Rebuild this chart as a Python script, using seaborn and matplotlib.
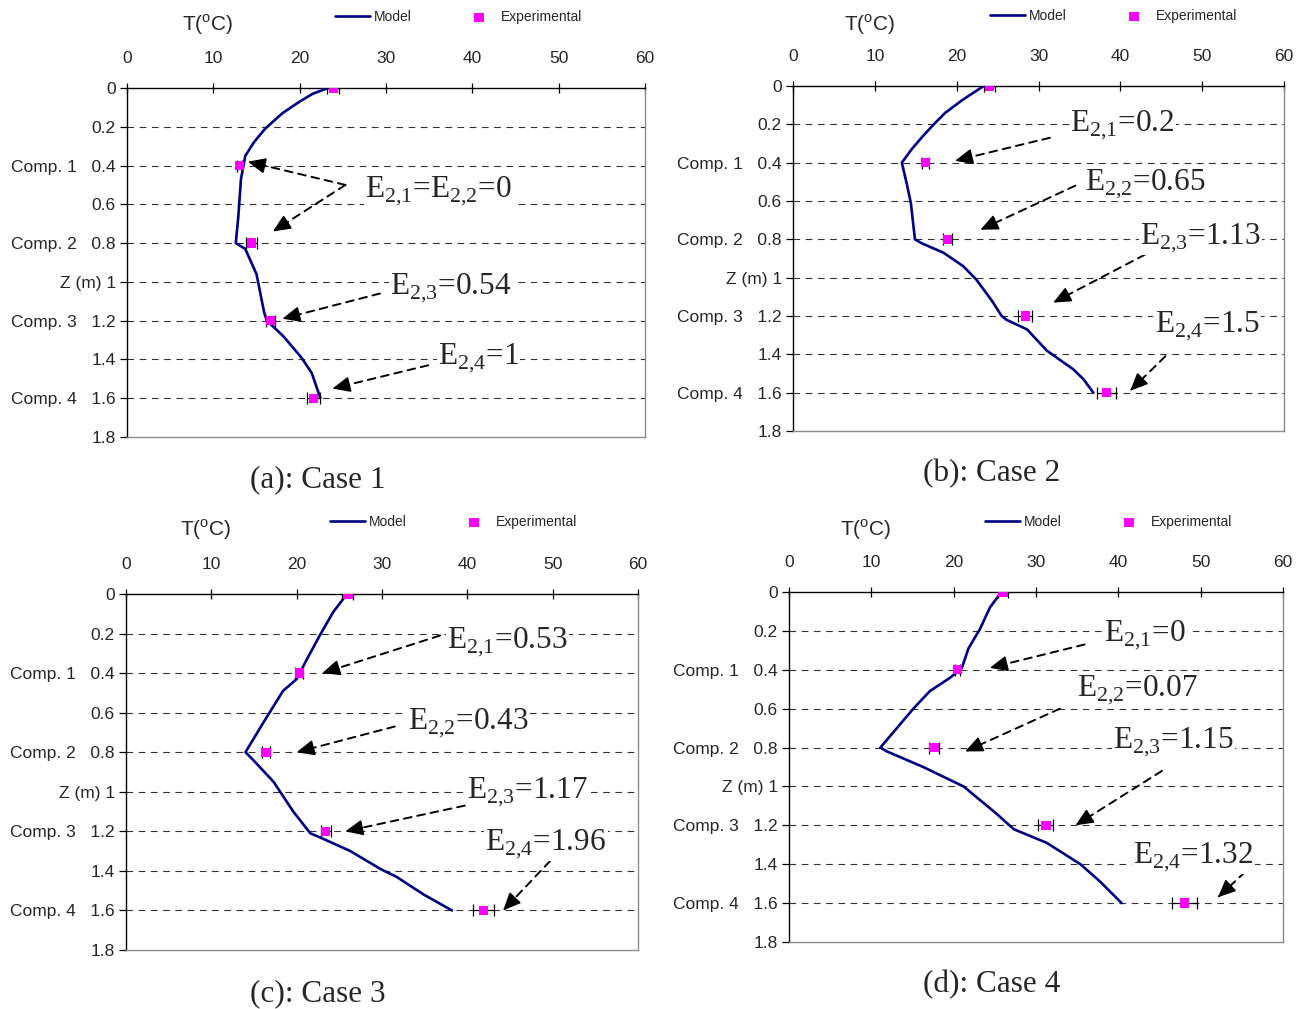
import numpy as np
import pandas as pd
import matplotlib
matplotlib.use("Agg")
import matplotlib.pyplot as plt
import seaborn as sns

# ---------------- data ----------------
exp_z = [0.0, 0.4, 0.8, 1.2, 1.6]
y_ticks = [0.0, 0.2, 0.4, 0.6, 0.8, 1.0, 1.2, 1.4, 1.6, 1.8]
y_tick_labels = ["0", "0.2", "Comp. 1   0.4", "0.6", "Comp. 2   0.8", "Z (m) 1",
                 "Comp. 3   1.2", "1.4", "Comp. 4   1.6", "1.8"]
x_ticks = [0, 10, 20, 30, 40, 50, 60]

a_model_T = [23.3, 21.5, 20.0, 18.0, 16.0, 14.7, 13.7, 13.2, 12.9, 12.6, 13.7, 15.0, 15.9, 16.2, 18.1, 20.2, 21.4, 22.4]
a_model_z = [0.0, 0.03, 0.07, 0.13, 0.21, 0.28, 0.35, 0.47, 0.66, 0.80, 0.83, 0.96, 1.16, 1.20, 1.28, 1.39, 1.47, 1.60]
a_exp_T = [23.9, 13.0, 14.4, 16.6, 21.6]
a_exp_err = [0.7, 0.3, 0.6, 0.55, 0.7]

b_model_T = [23.3, 20.8, 18.6, 17.2, 15.9, 14.5, 13.3, 13.9, 14.4, 14.9, 15.7, 18.4, 20.8, 22.4,
             24.3, 25.5, 26.1, 28.6, 31.0, 34.3, 35.5, 36.7]
b_model_z = [0.0, 0.07, 0.14, 0.20, 0.26, 0.33, 0.40, 0.51, 0.61, 0.80, 0.82, 0.87, 0.94, 1.01,
             1.12, 1.20, 1.22, 1.27, 1.38, 1.48, 1.53, 1.60]
b_exp_T = [24.0, 16.2, 18.9, 28.4, 38.3]
b_exp_err = [0.7, 0.45, 0.57, 0.86, 1.2]

c_model_T = [25.9, 24.3, 22.7, 21.2, 20.0, 18.4, 16.1, 14.0, 14.7, 17.3, 19.6, 21.6, 22.7, 26.3,
             29.8, 31.7, 34.9, 38.2]
c_model_z = [0.0, 0.09, 0.21, 0.33, 0.43, 0.49, 0.65, 0.80, 0.83, 0.95, 1.10, 1.21, 1.23, 1.30,
             1.39, 1.43, 1.52, 1.60]
c_exp_T = [26.0, 20.3, 16.4, 23.4, 41.9]
c_exp_err = [0.63, 0.5, 0.47, 0.59, 1.27]

d_model_T = [25.8, 24.4, 23.2, 21.8, 21.0, 19.6, 17.1, 15.1, 13.5, 11.1, 11.9, 16.3, 21.2, 25.2,
             27.3, 31.3, 35.4, 37.8, 40.4]
d_model_z = [0.0, 0.08, 0.19, 0.29, 0.39, 0.44, 0.51, 0.60, 0.68, 0.80, 0.82, 0.90, 1.00, 1.14,
             1.22, 1.29, 1.40, 1.49, 1.60]
d_exp_T = [26.0, 20.5, 17.6, 31.2, 48.0]
d_exp_err = [0.6, 0.3, 0.57, 0.91, 1.52]

captions = ["(a): Case 1", "(b): Case 2", "(c): Case 3", "(d): Case 4"]

S21 = "E$_{\\mathrm{2{,}1}}$"
S22 = "E$_{\\mathrm{2{,}2}}$"
S23 = "E$_{\\mathrm{2{,}3}}$"
S24 = "E$_{\\mathrm{2{,}4}}$"

# annotation texts: (label, text x, text z, [(arrow start x, start z, end x, end z), ...])
a_notes = [(S21 + "=" + S22 + "=0", 27.6, 0.53, [(25.3, 0.50, 14.0, 0.38), (25.3, 0.50, 16.9, 0.74)]),
           (S23 + "=0.54", 30.5, 1.03, [(29.3, 1.06, 18.0, 1.19)]),
           (S24 + "=1", 36.0, 1.39, [(34.9, 1.43, 23.8, 1.55)])]
b_notes = [(S21 + "=0.2", 33.9, 0.20, [(31.4, 0.27, 19.8, 0.39)]),
           (S22 + "=0.65", 35.7, 0.51, [(34.5, 0.52, 22.9, 0.75)]),
           (S23 + "=1.13", 42.4, 0.79, [(43.0, 0.88, 31.8, 1.13)]),
           (S24 + "=1.5", 44.2, 1.25, [(45.5, 1.41, 41.2, 1.59)])]
c_notes = [(S21 + "=0.53", 37.6, 0.24, [(36.8, 0.21, 23.0, 0.40)]),
           (S22 + "=0.43", 33.1, 0.65, [(31.5, 0.67, 20.0, 0.80)]),
           (S23 + "=1.17", 40.0, 1.00, [(39.7, 1.07, 25.7, 1.20)]),
           (S24 + "=1.96", 42.1, 1.26, [(49.7, 1.35, 44.2, 1.60)])]
d_notes = [(S21 + "=0", 38.3, 0.22, [(35.9, 0.27, 24.4, 0.39)]),
           (S22 + "=0.07", 35.0, 0.50, [(32.9, 0.60, 21.4, 0.82)]),
           (S23 + "=1.15", 39.4, 0.77, [(45.3, 0.92, 34.8, 1.20)]),
           (S24 + "=1.32", 41.8, 1.36, [(55.4, 1.44, 52.1, 1.57)])]

# ---------------- style ----------------
sns.set_theme(style="white")
plt.rcParams["font.family"] = ["Liberation Sans", "DejaVu Sans"]
plt.rcParams["mathtext.fontset"] = "custom"
plt.rcParams["mathtext.rm"] = "Liberation Serif"
plt.rcParams["mathtext.sf"] = "Liberation Sans"

W, H = 1304, 1009
fig = plt.figure(figsize=(W / 100, H / 100), dpi=100)
fig.patch.set_facecolor("white")

# pixel boxes: left, right, top, bottom
boxes = [(127, 645, 88, 437), (793, 1284, 86, 431), (126, 638, 594, 950), (789, 1283, 592, 942)]
t_label_pos = [(208, 25), (870, 25), (206, 530), (866, 530)]
legend_pos = [(335, 17), (990, 16), (330, 522), (985, 522)]
caption_pos = [(318, 480), (992, 474), (318, 994), (992, 985)]

panels = [
    (a_model_T, a_model_z, a_exp_T, a_exp_err, a_notes),
    (b_model_T, b_model_z, b_exp_T, b_exp_err, b_notes),
    (c_model_T, c_model_z, c_exp_T, c_exp_err, c_notes),
    (d_model_T, d_model_z, d_exp_T, d_exp_err, d_notes),
]

serif = ["Liberation Serif", "DejaVu Serif"]

for i, (mT, mz, eT, eerr, notes) in enumerate(panels):
    l, r, t, b = boxes[i]
    ax = fig.add_axes([l / W, 1 - b / H, (r - l) / W, (b - t) / H])
    ax.set_facecolor("white")

    # grid lines (dashed) at inner ticks
    for yv in y_ticks[1:-1]:
        ax.axhline(yv, color="#333333", lw=0.8, ls=(0, (6, 5)), zorder=0)

    model_df = pd.DataFrame({"T": mT, "z": mz})
    exp_df = pd.DataFrame({"T": eT, "z": exp_z, "err": eerr})

    sns.lineplot(data=model_df, x="T", y="z", sort=False, estimator=None,
                 color="#000080", lw=1.9, ax=ax, label="Model", zorder=3)
    ax.errorbar(exp_df["T"], exp_df["z"], xerr=exp_df["err"], fmt="none",
                ecolor="black", elinewidth=0.9, capsize=4, capthick=0.9, zorder=4)
    sns.scatterplot(data=exp_df, x="T", y="z", marker="s", s=45, color="#FF00FF",
                    edgecolor="none", ax=ax, label="Experimental", zorder=5)

    ax.set_xlim(0, 60)
    ax.set_ylim(1.8, 0)
    ax.set_xlabel("")
    ax.set_ylabel("")
    ax.xaxis.tick_top()
    ax.set_xticks(x_ticks)
    ax.set_xticklabels([str(v) for v in x_ticks])
    ax.set_yticks(y_ticks)
    ax.set_yticklabels(y_tick_labels)
    ax.tick_params(axis="x", which="major", top=True, bottom=False, direction="inout",
                   length=7, width=0.9, color="black", labelsize=12.5, pad=12)
    ax.tick_params(axis="y", which="major", left=True, direction="out",
                   length=5, width=0.9, color="black", labelsize=12.5, pad=3)
    for side in ["left", "top"]:
        ax.spines[side].set_color("black")
        ax.spines[side].set_linewidth(1.0)
    for side in ["right", "bottom"]:
        ax.spines[side].set_color("#8c8c8c")
        ax.spines[side].set_linewidth(1.0)

    # legend
    handles, labels = ax.get_legend_handles_labels()
    ax.get_legend().remove()
    lx, ly = legend_pos[i]
    fig.legend(handles, labels, loc="center left", bbox_to_anchor=(lx / W, 1 - ly / H),
               ncol=2, frameon=False, fontsize=10, handlelength=2.5, handletextpad=0.3,
               columnspacing=3.6, borderaxespad=0, borderpad=0)

    # T label
    tx, ty = t_label_pos[i]
    fig.text(tx / W, 1 - ty / H, "T($^{\\mathsf{o}}$C)", ha="center", va="center", fontsize=15)

    # caption
    cx, cy = caption_pos[i]
    fig.text(cx / W, 1 - cy / H, captions[i], ha="center", va="center", fontsize=22.5,
             family=serif)

    # annotations
    for txt, tx_, tz_, arrows in notes:
        for (sx, sz, ex, ez) in arrows:
            ax.annotate("", xy=(ex, ez), xytext=(sx, sz),
                        arrowprops=dict(arrowstyle="-", color="black", lw=1.4,
                                        ls=(0, (4, 3)), shrinkA=0, shrinkB=2),
                        zorder=6)
            nx = ex + 0.04 * (sx - ex)
            nz = ez + 0.04 * (sz - ez)
            ax.annotate("", xy=(ex, ez), xytext=(nx, nz),
                        arrowprops=dict(arrowstyle="-|>,head_length=0.9,head_width=0.4",
                                        mutation_scale=12, color="black", lw=1.2,
                                        shrinkA=0, shrinkB=0),
                        zorder=6)
        ax.text(tx_, tz_, txt, ha="left", va="center", fontsize=22.5, family=serif,
                bbox=dict(fc="white", ec="none", pad=1), zorder=7, clip_on=False)

fig.savefig("out.png", dpi=100, facecolor="white")
